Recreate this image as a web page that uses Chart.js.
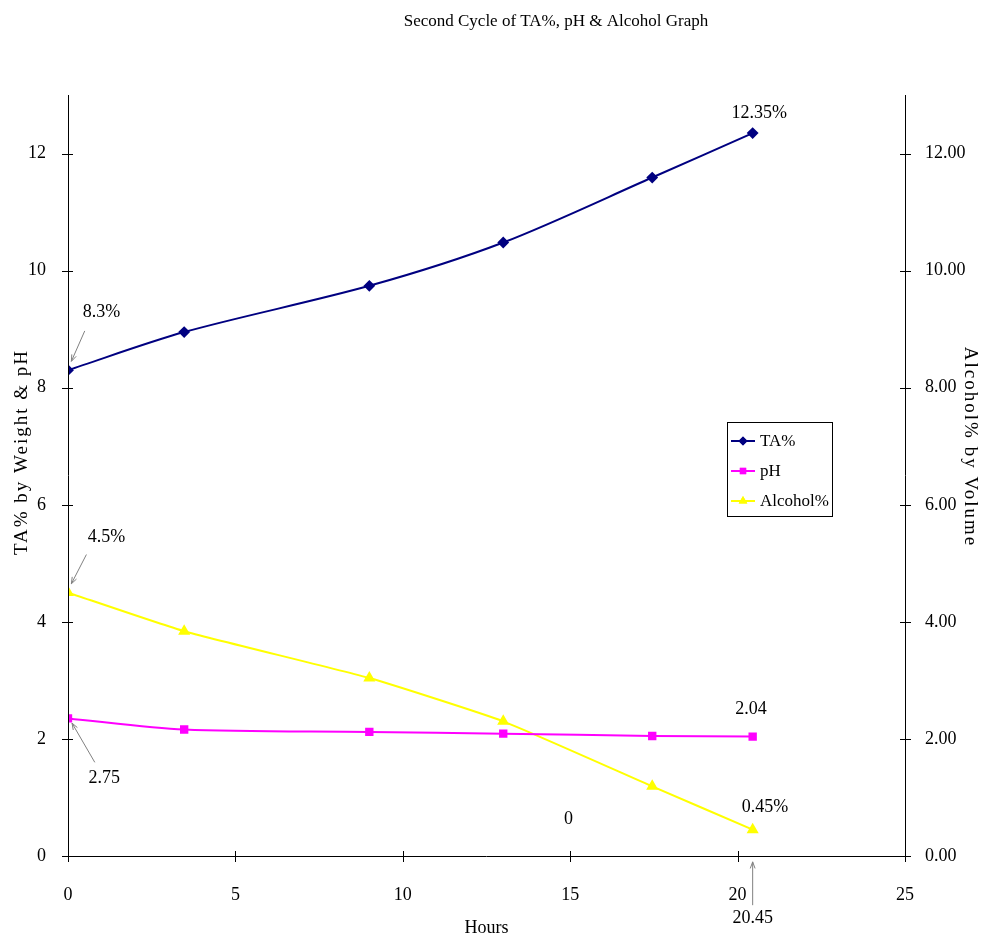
<!DOCTYPE html>
<html><head><meta charset="utf-8">
<script src="https://cdn.jsdelivr.net/npm/chart.js@4"></script>
<style>html,body{margin:0;padding:0;background:#fff;}#wrap{width:987px;height:936px;}</style>
</head><body><div id="wrap"><canvas id="c" width="987" height="936"></canvas></div>
<script>
const hours = [0, 3.47, 9.0, 13.0, 17.45, 20.45];
const taValues = [8.3, 8.95, 9.74, 10.48, 11.59, 12.35];
const phValues = [2.35, 2.16, 2.12, 2.09, 2.05, 2.04];
const alcoholValues = [4.5, 3.84, 3.04, 2.30, 1.19, 0.45];
const seriesNames = ['TA%', 'pH', 'Alcohol%'];
const xTicks = [0, 5, 10, 15, 20, 25];
const yTicks = [0, 2, 4, 6, 8, 10, 12];
const titleText = 'Second Cycle of TA%, pH & Alcohol Graph';
const xTitle = 'Hours';
const yLeftTitle = 'TA% by Weight & pH';
const yRightTitle = 'Alcohol% by Volume';
// annotations: [text, x, y, arrowFrom(x,y) or null, arrowTo(x,y)]
const notes = [
  {text:'8.3%',   x:1.0,  y:9.28, from:[0.5,8.97], to:[0.1,8.45]},
  {text:'4.5%',   x:1.15, y:5.45, from:[0.55,5.15], to:[0.1,4.65]},
  {text:'2.75',   x:1.08, y:1.32, from:[0.8,1.6], to:[0.12,2.27]},
  {text:'12.35%', x:20.65,y:12.68},
  {text:'2.04',   x:20.4, y:2.5},
  {text:'0.45%',  x:20.82,y:0.83},
  {text:'0',      x:14.95,y:0.62},
  {text:'20.45',  x:20.45,y:-1.06, from:[20.45,-0.84], to:[20.45,-0.1]}
];
const colors = ['#000080', '#FF00FF', '#FFFF00'];
const FONT = '"Liberation Serif", "Times New Roman", serif';

const pts = v => hours.map((h,i)=>({x:h,y:v[i]}));

const onlyTicks = (vals) => function(scale){ scale.ticks = vals.map(v=>({value:v})); };

const decor = {
  id:'decor',
  afterDraw(chart){
    const ctx = chart.ctx, ca = chart.chartArea;
    const sx = chart.scales.x, yl = chart.scales.y, yr = chart.scales.y2;
    ctx.save();
    // axis lines
    ctx.strokeStyle = '#000'; ctx.lineWidth = 1;
    ctx.beginPath();
    ctx.moveTo(Math.round(ca.left)+0.5, ca.top); ctx.lineTo(Math.round(ca.left)+0.5, ca.bottom);
    ctx.moveTo(Math.round(ca.right)+0.5, ca.top); ctx.lineTo(Math.round(ca.right)+0.5, ca.bottom);
    ctx.moveTo(ca.left, Math.round(ca.bottom)+0.5); ctx.lineTo(ca.right, Math.round(ca.bottom)+0.5);
    // ticks crossing
    xTicks.forEach(v=>{ const p=Math.round(sx.getPixelForValue(v))+0.5; ctx.moveTo(p, ca.bottom-5); ctx.lineTo(p, ca.bottom+6);});
    yTicks.forEach(v=>{ const p=Math.round(yl.getPixelForValue(v))+0.5;
      ctx.moveTo(ca.left-6,p); ctx.lineTo(ca.left+5,p);
      ctx.moveTo(ca.right-5,p); ctx.lineTo(ca.right+6,p);});
    ctx.stroke();
    // title
    ctx.fillStyle = '#000';
    ctx.font = '17px ' + FONT; ctx.textAlign='center'; ctx.textBaseline='middle';
    ctx.fillText(titleText, 556, 22);
    // x title
    ctx.font = '18px ' + FONT;
    ctx.fillText(xTitle, (ca.left+ca.right)/2, 928);
    // y titles
    ctx.font = '19px ' + FONT;
    try { ctx.letterSpacing = '2px'; } catch(e) {}
    ctx.save(); ctx.translate(22, 452); ctx.rotate(-Math.PI/2); ctx.fillText(yLeftTitle, 0, 0); ctx.restore();
    ctx.save(); ctx.translate(970, 447); ctx.rotate(Math.PI/2); ctx.fillText(yRightTitle, 0, 0); ctx.restore();
    try { ctx.letterSpacing = '0px'; } catch(e) {}
    // annotations
    ctx.font = '18px ' + FONT;
    notes.forEach(n=>{
      ctx.fillStyle='#000';
      ctx.fillText(n.text, sx.getPixelForValue(n.x), yl.getPixelForValue(n.y));
      if (n.from) {
        const x1=sx.getPixelForValue(n.from[0]), y1=yl.getPixelForValue(n.from[1]);
        const x2=sx.getPixelForValue(n.to[0]), y2=yl.getPixelForValue(n.to[1]);
        ctx.strokeStyle='#808080'; ctx.lineWidth=1;
        ctx.beginPath(); ctx.moveTo(x1,y1); ctx.lineTo(x2,y2); ctx.stroke();
        const a=Math.atan2(y2-y1,x2-x1), L=7, w=0.35;
        ctx.beginPath();
        ctx.moveTo(x2-L*Math.cos(a-w), y2-L*Math.sin(a-w));
        ctx.lineTo(x2,y2);
        ctx.lineTo(x2-L*Math.cos(a+w), y2-L*Math.sin(a+w));
        ctx.stroke();
      }
    });
    // legend box
    const lx=727, ly=422, lw=105, lh=94;
    ctx.fillStyle='#fff'; ctx.fillRect(lx,ly,lw,lh);
    ctx.strokeStyle='#000'; ctx.lineWidth=1; ctx.strokeRect(lx+0.5,ly+0.5,lw,lh);
    ctx.textAlign='left'; ctx.font='17px ' + FONT;
    chart.data.datasets.forEach((ds,i)=>{
      const yy = ly + 19 + i*30;
      ctx.strokeStyle=ds.borderColor; ctx.lineWidth=2;
      ctx.beginPath(); ctx.moveTo(lx+4,yy); ctx.lineTo(lx+28,yy); ctx.stroke();
      ctx.fillStyle=ds.borderColor;
      Chart.helpers.drawPoint(ctx,{pointStyle:ds.pointStyle, radius:ds.pointRadius, rotation:0, borderWidth:0}, lx+16, yy);
      ctx.fill();
      ctx.fillStyle='#000'; ctx.fillText(ds.label, lx+33, yy+1);
    });
    ctx.restore();
  }
};

new Chart(document.getElementById('c'), {
  type:'line',
  data:{datasets:[
    {label:seriesNames[0], data:pts(taValues), yAxisID:'y', borderColor:colors[0], backgroundColor:colors[0], pointStyle:'rectRot', pointRadius:4.5, borderWidth:2, tension:0.3},
    {label:seriesNames[1], data:pts(phValues), yAxisID:'y', borderColor:colors[1], backgroundColor:colors[1], pointStyle:'rect', pointRadius:4.5, borderWidth:2, tension:0.3},
    {label:seriesNames[2], data:pts(alcoholValues), yAxisID:'y2', borderColor:colors[2], backgroundColor:colors[2], pointStyle:'triangle', pointRadius:5, borderWidth:2, tension:0.15}
  ]},
  options:{
    responsive:false, animation:false, devicePixelRatio:1,
    layout:{padding:{top:95,left:0,right:0,bottom:0}},
    plugins:{legend:{display:false}, title:{display:false}, tooltip:{enabled:false}},
    scales:{
      x:{type:'linear', min:0, max:25, afterBuildTicks:onlyTicks(xTicks),
         afterFit(s){s.height=80;},
         grid:{display:false}, border:{display:false},
         ticks:{padding:20, color:'#000', font:{family:FONT,size:18}, maxRotation:0}},
      y:{type:'linear', position:'left', min:0, max:13, afterBuildTicks:onlyTicks(yTicks),
         afterFit(s){s.width=68;},
         grid:{display:false}, border:{display:false},
         ticks:{padding:14, color:'#000', font:{family:FONT,size:18}}},
      y2:{type:'linear', position:'right', min:0, max:13, afterBuildTicks:onlyTicks(yTicks),
         afterFit(s){s.width=82;},
         grid:{display:false}, border:{display:false},
         ticks:{padding:12, color:'#000', font:{family:FONT,size:18}, callback:v=>Number(v).toFixed(2)}}
    }
  },
  plugins:[decor]
});
</script></body></html>
